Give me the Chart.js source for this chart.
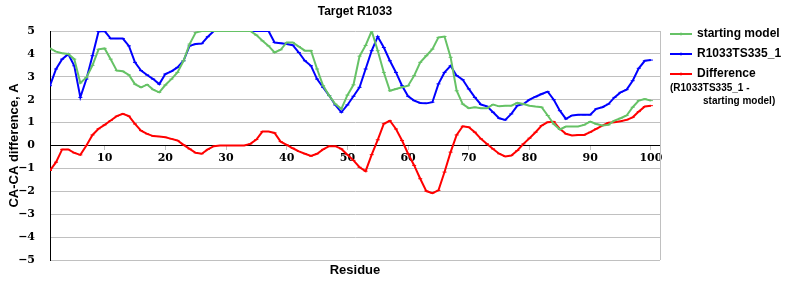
<!DOCTYPE html>
<html>
<head>
<meta charset="utf-8">
<script src="https://cdn.jsdelivr.net/npm/chart.js@4.4.1/dist/chart.umd.min.js"></script>
<style>
  html, body { margin: 0; padding: 0; background: #fff; }
  #wrap { width: 800px; height: 300px; }
</style>
</head>
<body>
<div id="wrap"><canvas id="c"></canvas></div>
<script>
// residue numbers 1..100
const residues = Array.from({ length: 100 }, (_, i) => i + 1);
const xTicks = [10, 20, 30, 40, 50, 60, 70, 80, 90, 100];

const startingModel = [
  4.24, 4.1, 4.03, 4.0, 3.77, 2.73, 2.97, 3.5, 4.2, 4.24,
  3.77, 3.27, 3.24, 3.08, 2.68, 2.54, 2.66, 2.44, 2.32, 2.64,
  2.9, 3.19, 3.7, 4.43, 4.93, 5, 5, 5, 5, 5,
  5, 5, 5, 5, 4.82, 4.57, 4.35, 4.06, 4.18, 4.5,
  4.5, 4.32, 4.14, 4.14, 3.34, 2.61, 2.18, 1.81, 1.6, 2.2,
  2.65, 3.9, 4.37, 5, 4.14, 3.19, 2.39, 2.47, 2.54, 2.61,
  3.05, 3.63, 3.92, 4.21, 4.72, 4.76, 3.85, 2.39, 1.81, 1.63,
  1.67, 1.63, 1.63, 1.79, 1.71, 1.74, 1.74, 1.86, 1.81, 1.74,
  1.7, 1.67, 1.31, 0.94, 0.7, 0.83, 0.83, 0.83, 0.9, 1.04,
  0.94, 0.87, 0.9, 1.09, 1.19, 1.31, 1.67, 1.96, 2.03, 1.96
];

const model335 = [
  2.61, 3.34, 3.77, 3.99, 3.48, 2.1, 2.9, 3.92, 4.98, 5,
  4.67, 4.67, 4.67, 4.35, 3.63, 3.27, 3.08, 2.9, 2.68, 3.12,
  3.24, 3.41, 3.7, 4.35, 4.43, 4.45, 4.75, 5, 5, 5,
  5, 5, 5, 5, 5, 5, 5, 4.5, 4.47, 4.43,
  4.38, 4.06, 3.7, 3.48, 2.9, 2.54, 2.18, 1.77, 1.45, 1.77,
  2.15, 2.54, 3.34, 4.14, 4.75, 4.28, 3.7, 3.19, 2.61, 2.15,
  1.96, 1.86, 1.84, 1.89, 2.69, 3.19, 3.48, 3.05, 2.87, 2.47,
  2.1, 1.79, 1.71, 1.45, 1.19, 1.12, 1.38, 1.74, 1.81, 2.0,
  2.13, 2.25, 2.35, 2.0, 1.52, 1.16, 1.31, 1.34, 1.34, 1.34,
  1.6, 1.67, 1.81, 2.1, 2.32, 2.44, 2.83, 3.37, 3.7, 3.73
];

const difference = [
  -1.09, -0.73, -0.17, -0.17, -0.32, -0.41, 0, 0.46, 0.73, 0.9,
  1.09, 1.28, 1.38, 1.28, 0.94, 0.65, 0.51, 0.41, 0.39, 0.36,
  0.29, 0.22, 0.03, -0.15, -0.32, -0.36, -0.17, -0.03, 0, 0,
  0, 0, 0, 0.07, 0.26, 0.61, 0.61, 0.55, 0.17, 0.03,
  -0.12, -0.26, -0.36, -0.46, -0.36, -0.17, -0.03, -0.03, -0.15, -0.4,
  -0.65, -0.95, -1.12, -0.4, 0.25, 0.95, 1.08, 0.72, 0.22, -0.36,
  -0.87, -1.45, -1.99, -2.08, -1.96, -1.16, -0.29, 0.46, 0.84, 0.8,
  0.58, 0.29, 0.07, -0.15, -0.36, -0.48, -0.44, -0.22, 0.07, 0.32,
  0.58, 0.87, 1.02, 1.04, 0.73, 0.51, 0.44, 0.46, 0.46, 0.58,
  0.73, 0.87, 0.99, 1.02, 1.06, 1.12, 1.23, 1.48, 1.7, 1.74
];

const GREEN = '#66c266';
const BLUE = '#0000ff';
const RED = '#ff0000';
const GRID = '#c0c0c0';
const SANS = "'Liberation Sans', Arial, sans-serif";
const SERIF = "'DejaVu Serif', serif";

function series(label, vals, color) {
  return {
    label: label,
    data: residues.map((r, i) => ({ x: r, y: vals[i] })),
    borderColor: color,
    backgroundColor: color,
    borderWidth: 2,
    pointStyle: 'line',
    pointRadius: 2,
    pointBorderWidth: 1,
    tension: 0
  };
}

// titel, rechter rand en legende zelf tekenen
const decor = {
  id: 'decor',
  beforeDatasetsDraw(chart) {
    const { ctx, chartArea: a } = chart;
    ctx.save();
    ctx.strokeStyle = GRID;
    ctx.lineWidth = 1;
    ctx.beginPath();
    ctx.moveTo(Math.round(a.right) + 0.5, a.top);
    ctx.lineTo(Math.round(a.right) + 0.5, a.bottom);
    ctx.stroke();
    ctx.restore();
  },
  afterDraw(chart) {
    const { ctx } = chart;
    ctx.save();
    ctx.fillStyle = '#000';
    ctx.textBaseline = 'middle';
    ctx.textAlign = 'center';
    ctx.font = 'bold 12px ' + SANS;
    ctx.fillText('Target R1033', 355, 12);

    const items = [
      { text: 'starting model', color: GREEN, y: 34 },
      { text: 'R1033TS335_1', color: BLUE, y: 54 },
      { text: 'Difference', color: RED, y: 74 }
    ];
    ctx.textAlign = 'left';
    items.forEach(it => {
      ctx.strokeStyle = it.color;
      ctx.lineWidth = 2;
      ctx.beginPath();
      ctx.moveTo(670, it.y);
      ctx.lineTo(692, it.y);
      ctx.stroke();
      ctx.lineWidth = 1;
      ctx.beginPath();
      ctx.moveTo(681, it.y - 1.5);
      ctx.lineTo(681, it.y + 1.5);
      ctx.stroke();
      ctx.font = 'bold 12px ' + SANS;
      ctx.fillText(it.text, 697, it.y);
    });
    ctx.font = 'bold 10px ' + SANS;
    ctx.fillText('(R1033TS335_1 -', 670, 88);
    ctx.fillText('starting model)', 703, 101);
    ctx.restore();
  }
};

new Chart(document.getElementById('c'), {
  type: 'line',
  data: {
    datasets: [
      series('starting model', startingModel, GREEN),
      series('R1033TS335_1', model335, BLUE),
      series('Difference', difference, RED)
    ]
  },
  options: {
    animation: false,
    responsive: true,
    maintainAspectRatio: false,
    layout: { padding: { top: 31, right: 140, bottom: 0, left: 0 } },
    plugins: {
      legend: { display: false },
      title: { display: false },
      tooltip: { enabled: false }
    },
    scales: {
      x: {
        type: 'linear',
        position: { y: 0 },
        min: 1,
        max: 101.5,
        afterBuildTicks: s => { s.ticks = xTicks.map(v => ({ value: v })); },
        grid: { drawOnChartArea: false, drawTicks: true, tickLength: 4, color: GRID },
        border: { color: '#000', width: 1 },
        ticks: {
          padding: 2,
          maxRotation: 0,
          autoSkip: false,
          color: '#000',
          font: { family: SERIF, weight: 'bold', size: 11 }
        }
      },
      xb: {
        type: 'linear',
        position: 'bottom',
        min: 1,
        max: 101.5,
        grid: { display: false },
        border: { display: false },
        ticks: { display: false },
        afterFit: s => { s.height = 40; },
        title: {
          display: true,
          text: 'Residue',
          color: '#000',
          padding: { top: 0, bottom: 22 },
          font: { family: SANS, weight: 'bold', size: 13 }
        }
      },
      y: {
        min: -5,
        max: 5,
        afterFit: s => { s.width = 50; },
        grid: { color: GRID, drawTicks: false },
        border: { color: '#000', width: 1 },
        ticks: {
          stepSize: 1,
          padding: 15,
          color: '#000',
          font: { family: SERIF, weight: 'bold', size: 11 },
          callback: v => (v < 0 ? '\u2212' + Math.abs(v) : String(v))
        },
        title: {
          display: true,
          text: 'CA-CA difference, A',
          color: '#000',
          padding: { top: 7, bottom: 0 },
          font: { family: SANS, weight: 'bold', size: 13 }
        }
      }
    }
  },
  plugins: [decor]
});
</script>
</body>
</html>
